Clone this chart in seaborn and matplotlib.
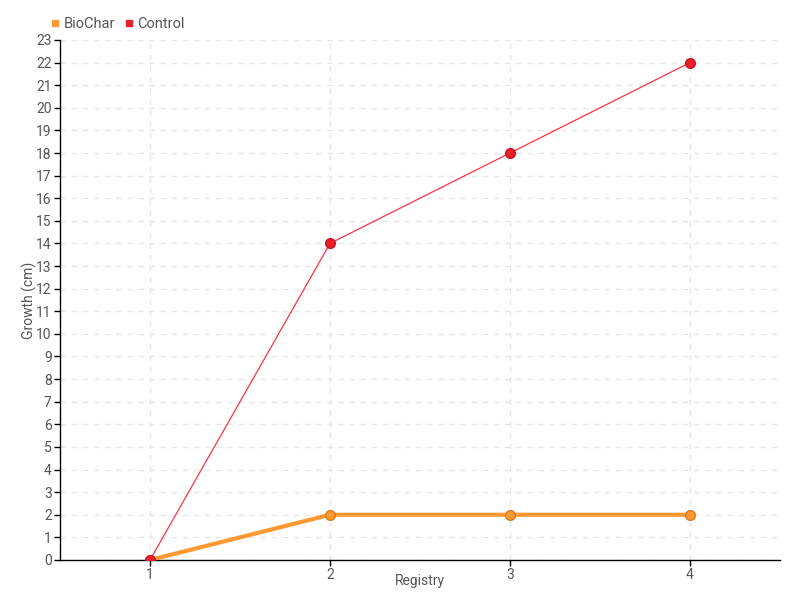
import pandas as pd
import numpy as np
import seaborn as sns
import matplotlib.pyplot as plt

registry = [1, 2, 3, 4]
biochar = [0, 2, 2, 2]
control = [0, 14, 18, 22]

df = pd.DataFrame({'Registry': registry * 2,
                   'Growth': biochar + control,
                   'Series': ['BioChar'] * 4 + ['Control'] * 4})

sns.set_style('white')
plt.rcParams['font.family'] = ['Roboto', 'DejaVu Sans']

fig = plt.figure(figsize=(8, 6), dpi=100)
ax = fig.add_axes([0.075, 0.0667, 0.9, 0.8667])

colors = {'BioChar': '#ff9933', 'Control': '#ff3344'}
widths = {'BioChar': 3, 'Control': 0.9}
faces = {'BioChar': '#ff9933', 'Control': '#e8202a'}
edges = {'BioChar': '#d97a1c', 'Control': '#cc1122'}
for name in ['BioChar', 'Control']:
    sub = df[df['Series'] == name]
    sns.lineplot(data=sub, x='Registry', y='Growth', ax=ax, color=colors[name],
                 linewidth=widths[name], marker='o', markersize=7,
                 markerfacecolor=faces[name],
                 markeredgecolor=edges[name], markeredgewidth=1, label=name, zorder=3)

ax.set_xlim(0.5, 4.5)
ax.set_ylim(0, 23)
ax.set_xticks(registry)
ax.set_yticks(range(0, 24))
ax.grid(True, color='#e6e6e6', linestyle=(0, (4, 4)), linewidth=1)
for s in ['top', 'right']:
    ax.spines[s].set_visible(False)
for s in ['left', 'bottom']:
    ax.spines[s].set_color('black')
    ax.spines[s].set_linewidth(1)
ax.tick_params(axis='both', colors='black', labelcolor='#555555', labelsize=10,
               length=4, width=1, direction='out', left=True, bottom=True, pad=2)
ax.set_xlabel('Registry', color='#555555', fontsize=10)
ax.set_ylabel('Growth (cm)', color='#555555', fontsize=10)
ax.xaxis.set_label_coords(0.5, -0.027)
ax.yaxis.set_label_coords(-0.032, 0.5)

leg = ax.legend(loc='lower left', bbox_to_anchor=(-0.025, 1.0), ncol=2, frameon=False,
                fontsize=10.5, handlelength=0.6, handletextpad=0.3, columnspacing=0.6,
                borderaxespad=0.2)
for h, name in zip(leg.legend_handles, ['BioChar', 'Control']):
    h.set_linestyle('None')
    h.set_marker('s')
    h.set_markersize(5)
    h.set_markerfacecolor(faces[name])
    h.set_markeredgecolor(faces[name])
for t in leg.get_texts():
    t.set_color('#555555')

fig.savefig('out.png', dpi=100)
